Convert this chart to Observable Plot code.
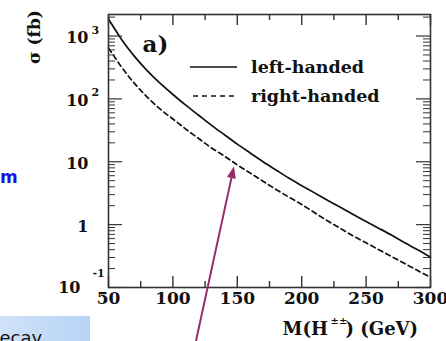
<!DOCTYPE html>
<html><head><meta charset="utf-8">
<script src="https://cdn.jsdelivr.net/npm/d3@7"></script>
<script src="https://cdn.jsdelivr.net/npm/@observablehq/plot@0.6"></script>
<style>html,body{margin:0;padding:0;background:#fff;} svg{display:block}</style>
</head><body><div id="chart"></div>
<script>
// ---- data ----
const masses     = [50,60,70,80,90,100,110,120,130,140,150,160,170,180,190,200,210,220,230,240,250,260,270,280,290,300];
const sigmaLeft  = [1862,891,479,282,178,117.5,79.4,55.0,38.0,26.9,19.1,13.8,10.0,7.41,5.50,4.17,3.20,2.45,1.89,1.45,1.12,0.871,0.676,0.513,0.398,0.302];
const sigmaRight = [646,324,178,107,69.2,47.9,33.1,23.4,16.6,12.3,8.91,6.61,4.90,3.63,2.75,2.09,1.55,1.15,0.871,0.661,0.513,0.398,0.309,0.240,0.186,0.145];
const seriesNames = ["left-handed","right-handed"];
const xMajorTicks = [50,100,150,200,250,300];
const xMinorTicks = [75,125,175,225,275];
const yMajorTicks = [0.1,1,10,100,1000];
const yMinorTicks = [0.2,0.3,0.4,0.5,0.6,0.7,0.8,0.9,2,3,4,5,6,7,8,9,20,30,40,50,60,70,80,90,200,300,400,500,600,700,800,900,2000];
const yTickLabels = [
  {v:1000, base:"10", exp:"3"},
  {v:100,  base:"10", exp:"2"},
  {v:10,   base:"10", exp:""},
  {v:1,    base:"1",  exp:""}
];
const yLowLabel = [{v:0.1, base:"10", exp:"-1"}];
const xTitle = ["M(H", "±±", ") (GeV)"];
const yTitle = "σ (fb)";
const panelLabel = "a)";
const arrowAnnotation = [{x1:118.3, y1:0.0139, x2:147.8, y2:8.3}];

const rows = [];
masses.forEach((m,i) => {
  rows.push({m, s: sigmaLeft[i], series: seriesNames[0]});
  rows.push({m, s: sigmaRight[i], series: seriesNames[1]});
});

const W = 446, H = 341, mL = 108, mR = 16, mT = 14, mB = 54;
const innerW = W - mL - mR, innerH = H - mT - mB;
const serif = "DejaVu Serif";
const axisColor = "#333";
const bold = {fontFamily: serif, fontWeight: "bold", fill: "#111"};

function legendMark() {
  const g = d3.create("svg:g");
  const items = [
    {name: seriesNames[0], y: 67, dash: null, x0: 190},
    {name: seriesNames[1], y: 96, dash: "5,4", x0: 193}
  ];
  for (const it of items) {
    g.append("line").attr("x1", it.x0).attr("x2", 237).attr("y1", it.y).attr("y2", it.y)
      .attr("stroke", "#111").attr("stroke-width", 1.5).attr("stroke-dasharray", it.dash);
    g.append("text").attr("x", 251).attr("y", it.y).attr("dy", "0.32em").attr("text-anchor", "start")
      .attr("font-family", serif).attr("font-weight", "bold").attr("font-size", 17.5)
      .attr("fill", "#111").text(it.name);
  }
  g.append("text").attr("transform", "translate(40,37) rotate(-90)").attr("text-anchor", "middle")
    .attr("font-family", serif).attr("font-weight", "bold").attr("font-size", 17)
    .attr("fill", "#111").text(yTitle);
  return g.node();
}
function slideMark() {
  const g = d3.create("svg:g");
  const defs = g.append("defs");
  const lg = defs.append("linearGradient").attr("id", "boxgrad").attr("x1", 0).attr("x2", 1).attr("y1", 0).attr("y2", 0);
  lg.append("stop").attr("offset", "0%").attr("stop-color", "#cfe2f8");
  lg.append("stop").attr("offset", "100%").attr("stop-color", "#b7d3f5");
  g.append("rect").attr("x", 0).attr("y", 316).attr("width", 90).attr("height", 25).attr("fill", "url(#boxgrad)");
  g.append("text").attr("x", -12).attr("y", 344).attr("text-anchor", "start").attr("font-family", "DejaVu Sans").attr("font-size", 18)
    .attr("fill", "#111").text("decay");
  g.append("text").attr("x", 0).attr("y", 183).attr("text-anchor", "start").attr("font-family", "DejaVu Sans").attr("font-weight", "bold")
    .attr("font-size", 17).attr("fill", "#1414e6").text("m");
  return g.node();
}
function arrowMark(index, scales) {
  const g = d3.create("svg:g");
  for (const a of arrowAnnotation) {
    const x1 = scales.x(a.x1), y1 = scales.y(a.y1), x2 = scales.x(a.x2), y2 = scales.y(a.y2);
    const len = Math.hypot(x2 - x1, y2 - y1), ux = (x2 - x1) / len, uy = (y2 - y1) / len;
    const hl = 12, hw = 4.5;
    const bx = x2 - hl * ux, by = y2 - hl * uy;
    g.append("line").attr("x1", x1).attr("y1", y1).attr("x2", bx + ux).attr("y2", by + uy)
      .attr("stroke", "#9a2a68").attr("stroke-width", 2);
    g.append("path").attr("d", `M${x2},${y2}L${bx - hw * uy},${by + hw * ux}L${bx + hw * uy},${by - hw * ux}Z`)
      .attr("fill", "#9a2a68");
  }
  return g.node();
}

const chart = Plot.plot({
  width: W, height: H,
  marginLeft: mL, marginRight: mR, marginTop: mT, marginBottom: mB,
  style: {background: "white", overflow: "visible"},
  x: {domain: [50, 300], axis: null},
  y: {type: "log", domain: [0.1, 2200], axis: null},
  marks: [
    slideMark,
    Plot.line(rows.filter(d => d.series === seriesNames[0]), {x: "m", y: "s", stroke: "#111", strokeWidth: 1.7, curve: "natural"}),
    Plot.line(rows.filter(d => d.series === seriesNames[1]), {x: "m", y: "s", stroke: "#111", strokeWidth: 1.7, strokeDasharray: "5,3.5", curve: "natural"}),
    Plot.tickX(xMajorTicks, {x: d => d, insetTop: innerH - 11, stroke: axisColor, strokeWidth: 1.4}),
    Plot.tickX(xMinorTicks, {x: d => d, insetTop: innerH - 6, stroke: axisColor, strokeWidth: 1.4}),
    Plot.tickX(xMajorTicks, {x: d => d, insetBottom: innerH - 11, stroke: axisColor, strokeWidth: 1.4}),
    Plot.tickX(xMinorTicks, {x: d => d, insetBottom: innerH - 6, stroke: axisColor, strokeWidth: 1.4}),
    Plot.tickY(yMajorTicks, {y: d => d, insetRight: innerW - 14, stroke: axisColor, strokeWidth: 1.2}),
    Plot.tickY(yMinorTicks, {y: d => d, insetRight: innerW - 7, stroke: axisColor, strokeWidth: 1}),
    Plot.tickY(yMajorTicks, {y: d => d, insetLeft: innerW - 14, stroke: axisColor, strokeWidth: 1.2}),
    Plot.tickY(yMinorTicks, {y: d => d, insetLeft: innerW - 7, stroke: axisColor, strokeWidth: 1}),
    Plot.frame({stroke: axisColor, strokeWidth: 1.6}),
    Plot.text(xMajorTicks, {x: d => d, text: d => String(d), frameAnchor: "bottom", dy: 16, fontSize: 17, ...bold}),
    Plot.text(yTickLabels, {y: "v", text: "base", frameAnchor: "left", dx: -20, dy: 2, textAnchor: "end", fontSize: 16, ...bold}),
    Plot.text(yTickLabels.filter(d => d.exp), {y: "v", text: "exp", frameAnchor: "left", dx: -17, dy: -6, textAnchor: "start", fontSize: 11, ...bold}),
    Plot.text(yLowLabel, {y: "v", text: "base", frameAnchor: "left", dx: -28, dy: 0, textAnchor: "end", fontSize: 16, ...bold}),
    Plot.text(yLowLabel, {y: "v", text: "exp", frameAnchor: "left", dx: -16, dy: -14, textAnchor: "start", fontSize: 11, ...bold}),
    Plot.text([xTitle[0]], {frameAnchor: "bottom-left", dx: 174, dy: 47, textAnchor: "start", fontSize: 18, ...bold}),
    Plot.text([xTitle[1]], {frameAnchor: "bottom-left", dx: 222, dy: 36, textAnchor: "start", fontSize: 10, ...bold}),
    Plot.text([xTitle[2]], {frameAnchor: "bottom-left", dx: 237, dy: 47, textAnchor: "start", fontSize: 18, ...bold}),
    Plot.text([panelLabel], {frameAnchor: "top-left", dx: 34, dy: 21, textAnchor: "start", fontSize: 23, ...bold}),
    legendMark,
    arrowMark
  ]
});
document.getElementById("chart").appendChild(chart);
</script>
</body></html>
